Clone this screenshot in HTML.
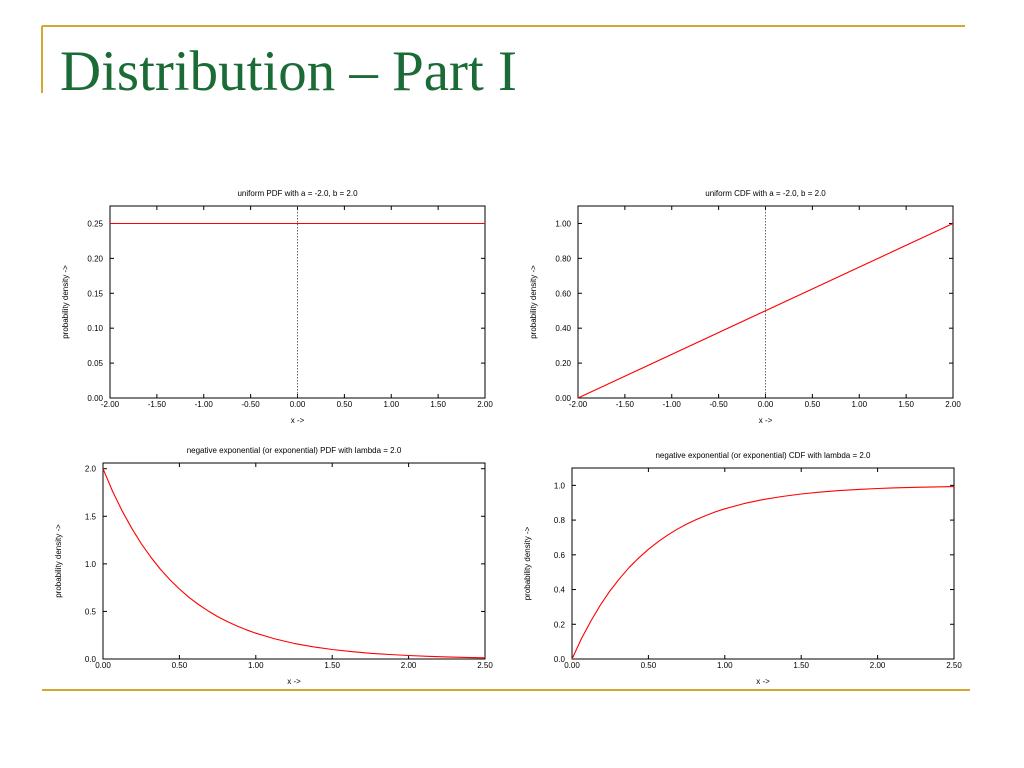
<!DOCTYPE html>
<html><head><meta charset="utf-8"><style>
body{margin:0;background:#fff;}
svg{display:block;font-family:"Liberation Sans",sans-serif;}
</style></head><body>
<svg id="s" width="1024" height="768">
<line x1="42" y1="26" x2="965" y2="26" stroke="#d4a830" stroke-width="2"/>
<line x1="42" y1="26" x2="42" y2="93" stroke="#d4a830" stroke-width="2"/>
<line x1="42" y1="690" x2="970" y2="690" stroke="#d4a830" stroke-width="2"/>
<text x="60" y="90" font-family="Liberation Serif, serif" font-size="57" fill="#1a6b35" textLength="457" lengthAdjust="spacingAndGlyphs">Distribution – Part I</text>
</svg>
<script>
const pdfX=[0,0.0625,0.125,0.1875,0.25,0.3125,0.375,0.4375,0.5,0.5625,0.625,0.6875,0.75,0.8125,0.875,0.9375,1,1.125,1.25,1.375,1.5,1.625,1.75,1.875,2,2.125,2.25,2.375,2.5];
const pdfY=[2.0,1.765,1.558,1.375,1.213,1.071,0.945,0.834,0.736,0.649,0.573,0.506,0.446,0.394,0.348,0.307,0.271,0.211,0.164,0.128,0.100,0.078,0.060,0.047,0.037,0.028,0.022,0.017,0.013];
const cdfY=[0,0.118,0.221,0.313,0.394,0.465,0.528,0.583,0.632,0.675,0.713,0.747,0.777,0.803,0.826,0.847,0.865,0.895,0.918,0.936,0.950,0.961,0.970,0.977,0.982,0.986,0.989,0.991,0.993];
const uniX=[-2,2];
const uniPdf=[0.25,0.25];
const uniCdf=[0,1];
const uniTicksX=["-2.00","-1.50","-1.00","-0.50","0.00","0.50","1.00","1.50","2.00"];
const pdfTicksY=["0.00","0.05","0.10","0.15","0.20","0.25"];
const cdfTicksY=["0.00","0.20","0.40","0.60","0.80","1.00"];
const expTicksX=["0.00","0.50","1.00","1.50","2.00","2.50"];
const expPdfTicksY=["0.0","0.5","1.0","1.5","2.0"];
const expCdfTicksY=["0.0","0.2","0.4","0.6","0.8","1.0"];

const svg=document.getElementById('s');
const NS='http://www.w3.org/2000/svg';
function mk(tag,attrs,parent){const e=document.createElementNS(NS,tag);for(const k in attrs)e.setAttribute(k,attrs[k]);(parent||svg).appendChild(e);return e;}

function chart(o){
  const g=mk('g',{});
  
  
  const sx=v=>o.x0+(v-o.xmin)/(o.xmax-o.xmin)*(o.x1-o.x0);
  const sy=v=>o.y1-(v-o.ymin)/(o.ymax-o.ymin)*(o.y1-o.y0);
  const fr=mk('rect',{x:o.x0,y:o.y0,width:o.x1-o.x0,height:o.y1-o.y0,fill:'none',stroke:'#000','stroke-width':1},g);
  
  
  const t=mk('text',{x:(o.x0+o.x1)/2,y:o.y0-10,'font-size':8,'text-anchor':'middle'},g);t.textContent=o.title;
  
  
  o.xt.forEach(s=>{const v=parseFloat(s),x=sx(v);
    mk('line',{x1:x,y1:o.y1,x2:x,y2:o.y1-4,stroke:'#000'},g);
    mk('line',{x1:x,y1:o.y0,x2:x,y2:o.y0+4,stroke:'#000'},g);
    const l=mk('text',{x:x,y:o.y1+9,'font-size':8,'text-anchor':'middle'},g);l.textContent=s;
    
    
  });
  o.yt.forEach(s=>{const v=parseFloat(s),y=sy(v);
    mk('line',{x1:o.x0,y1:y,x2:o.x0+4,y2:y,stroke:'#000'},g);
    mk('line',{x1:o.x1,y1:y,x2:o.x1-4,y2:y,stroke:'#000'},g);
    const l=mk('text',{x:o.x0-7,y:y+3,'font-size':8,'text-anchor':'end'},g);l.textContent=s;
    
    
  });
  if(o.zero){const z=mk('line',{x1:sx(0),y1:o.y0,x2:sx(0),y2:o.y1,stroke:'#444','stroke-dasharray':'1.5,1.5','stroke-width':0.8},g);
    
    }
  const xl=mk('text',{x:(o.x0+o.x1)/2,y:o.y1+25,'font-size':8,'text-anchor':'middle'},g);xl.textContent='x ->';
  
  
  const cy=(o.y0+o.y1)/2,cx=o.x0-42;
  const yl=mk('text',{x:cx,y:cy,'font-size':8,'text-anchor':'middle',transform:`rotate(-90 ${cx} ${cy})`},g);yl.textContent='probability density ->';
  
  
  const pts=o.xs.map((x,i)=>sx(x).toFixed(1)+','+sy(o.ys[i]).toFixed(1)).join(' ');
  const pl=mk('polyline',{points:pts,fill:'none',stroke:'#ff0000','stroke-width':1.1,'stroke-linejoin':'round'},g);
  
  
}
chart({name:'uniform-pdf-chart',title:'uniform PDF with a = -2.0, b = 2.0',x0:110,x1:485,y0:206,y1:398,xmin:-2,xmax:2,ymin:0,ymax:0.275,xt:uniTicksX,yt:pdfTicksY,xs:uniX,ys:uniPdf,zero:true});
chart({name:'uniform-cdf-chart',title:'uniform CDF with a = -2.0, b = 2.0',x0:578,x1:953,y0:206,y1:398,xmin:-2,xmax:2,ymin:0,ymax:1.1,xt:uniTicksX,yt:cdfTicksY,xs:uniX,ys:uniCdf,zero:true});
chart({name:'exp-pdf-chart',title:'negative exponential (or exponential) PDF with lambda = 2.0',x0:103,x1:485,y0:463,y1:659,xmin:0,xmax:2.5,ymin:0,ymax:2.06,xt:expTicksX,yt:expPdfTicksY,xs:pdfX,ys:pdfY});
chart({name:'exp-cdf-chart',title:'negative exponential (or exponential) CDF with lambda = 2.0',x0:572,x1:954,y0:468,y1:659,xmin:0,xmax:2.5,ymin:0,ymax:1.1,xt:expTicksX,yt:expCdfTicksY,xs:pdfX,ys:cdfY});
</script>
</body></html>
